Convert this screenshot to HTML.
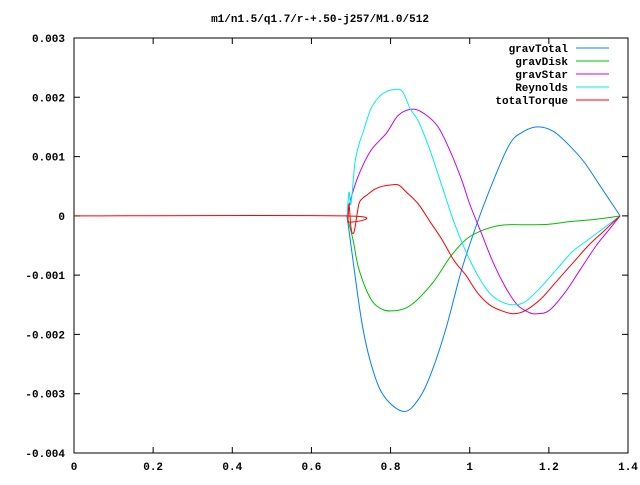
<!DOCTYPE html>
<html><head><meta charset="utf-8"><style>
body{margin:0;background:#fff}
text{font-family:"Liberation Mono",monospace;font-size:11px;font-weight:bold;fill:#000}
</style></head><body>
<svg id="c" width="640" height="480" xmlns="http://www.w3.org/2000/svg">
<rect width="640" height="480" fill="#fff"/>
<text x="320" y="22" text-anchor="middle">m1/n1.5/q1.7/r-+.50-j257/M1.0/512</text>
<g id="axes"></g><g id="series"></g><g id="legend"></g>
</svg>
<script>
const xTicks=[0,0.2,0.4,0.6,0.8,1,1.2,1.4];
const xTickLabels=["0","0.2","0.4","0.6","0.8","1","1.2","1.4"];
const yTicks=[0.003,0.002,0.001,0,-0.001,-0.002,-0.003,-0.004];
const yTickLabels=["0.003","0.002","0.001","0","-0.001","-0.002","-0.003","-0.004"];
const seriesNames=["gravTotal","gravDisk","gravStar","Reynolds","totalTorque"];
const seriesColors=["#0080ff","#00c000","#c000ff","#00eeee","#ff0000"];
const gravTotalX=[0.69,0.70,0.73,0.76,0.79,0.835,0.87,0.9,0.94,0.98,1.02,1.06,1.1,1.13,1.17,1.21,1.25,1.29,1.33,1.36,1.38];
const gravTotalY=[0,-0.0005,-0.0019,-0.0027,-0.0031,-0.0033,-0.0031,-0.0027,-0.0019,-0.0009,-0.0001,0.0006,0.0012,0.0014,0.0015,0.00143,0.0012,0.0009,0.0005,0.0002,0];
const gravDiskX=[0.69,0.705,0.72,0.75,0.78,0.81,0.84,0.87,0.91,0.95,0.99,1.03,1.07,1.1,1.15,1.2,1.25,1.3,1.34,1.38];
const gravDiskY=[0,-0.0004,-0.0009,-0.0014,-0.00158,-0.0016,-0.00155,-0.0014,-0.0011,-0.0007,-0.0004,-0.00025,-0.00017,-0.00015,-0.00015,-0.00014,-0.0001,-0.00007,-0.00004,0];
const gravStarX=[0.69,0.7,0.72,0.75,0.79,0.82,0.857,0.89,0.92,0.95,0.98,1.0,1.03,1.06,1.09,1.12,1.15,1.17,1.2,1.24,1.28,1.32,1.35,1.38];
const gravStarY=[0,0.0003,0.0007,0.0011,0.0014,0.0017,0.0018,0.0017,0.0015,0.0011,0.0006,0.0002,-0.0003,-0.0008,-0.0012,-0.0015,-0.00163,-0.00165,-0.0016,-0.0013,-0.0009,-0.0005,-0.00025,0];
const reynoldsX=[0.69,0.695,0.70,0.71,0.72,0.73,0.75,0.77,0.79,0.81,0.83,0.85,0.87,0.9,0.93,0.96,0.99,1.02,1.05,1.08,1.11,1.14,1.18,1.22,1.26,1.3,1.34,1.38];
const reynoldsY=[0,0.0004,0.0002,0.0009,0.0012,0.0014,0.0018,0.002,0.0021,0.00213,0.0021,0.0018,0.0016,0.0011,0.0005,-0.0001,-0.0006,-0.001,-0.0013,-0.00145,-0.0015,-0.00145,-0.0012,-0.0009,-0.0006,-0.0004,-0.0002,0];
const totalTorqueX=[0,0.688,0.692,0.695,0.70,0.705,0.71,0.72,0.73,0.74,0.76,0.78,0.8,0.82,0.84,0.87,0.9,0.93,0.96,0.99,1.02,1.05,1.08,1.11,1.14,1.18,1.22,1.26,1.3,1.34,1.38];
const totalTorqueY=[0,0,-0.0001,0.0002,-0.0002,-0.0003,-0.0002,0.0002,0.0003,0.00035,0.00045,0.0005,0.00052,0.00052,0.0004,0.0002,-0.0001,-0.0004,-0.00075,-0.001,-0.0013,-0.0015,-0.0016,-0.00165,-0.0016,-0.0014,-0.0011,-0.0008,-0.0005,-0.00025,0];

const L=74,R=628,T=38,B=453,XMIN=0,XMAX=1.4,YMIN=-0.004,YMAX=0.003;
const sx=v=>L+(v-XMIN)/(XMAX-XMIN)*(R-L);
const sy=v=>B-(v-YMIN)/(YMAX-YMIN)*(B-T);
const NS="http://www.w3.org/2000/svg";
function mk(tag,parent){const e=document.createElementNS(NS,tag);parent.appendChild(e);return e;}
function smoothPath(pts){
  let d='M'+pts[0][0].toFixed(1)+','+pts[0][1].toFixed(1);
  const k=0.5/3;
  for(let i=0;i<pts.length-1;i++){
    const p0=pts[i-1]||pts[i],p1=pts[i],p2=pts[i+1],p3=pts[i+2]||p2;
    const c1x=p1[0]+(p2[0]-p0[0])*k,c1y=p1[1]+(p2[1]-p0[1])*k;
    const c2x=p2[0]-(p3[0]-p1[0])*k,c2y=p2[1]-(p3[1]-p1[1])*k;
    d+=`C${c1x.toFixed(1)},${c1y.toFixed(1)} ${c2x.toFixed(1)},${c2y.toFixed(1)} ${p2[0].toFixed(1)},${p2[1].toFixed(1)}`;
  }
  return d;
}
const axes=document.getElementById('axes');
const frame=mk('rect',axes);


frame.setAttribute('x',L);frame.setAttribute('y',T);frame.setAttribute('width',R-L);frame.setAttribute('height',B-T);
frame.setAttribute('fill','none');frame.setAttribute('stroke','#000');
xTicks.forEach((v,i)=>{
  const x=sx(v);
  const t=mk('path',axes);
  
  
  t.setAttribute('d',`M${x},${B}v-6M${x},${T}v6`);t.setAttribute('stroke','#000');
  const l=mk('text',axes);
  
  
  l.setAttribute('x',x);l.setAttribute('y',B+17);l.setAttribute('text-anchor','middle');l.textContent=xTickLabels[i];
});
yTicks.forEach((v,i)=>{
  const y=sy(v);
  const t=mk('path',axes);
  
  
  t.setAttribute('d',`M${L},${y}h6M${R},${y}h-6`);t.setAttribute('stroke','#000');
  const l=mk('text',axes);
  
  
  l.setAttribute('x',L-9);l.setAttribute('y',y+4);l.setAttribute('text-anchor','end');l.textContent=yTickLabels[i];
});
const sers=document.getElementById('series');
const data=[[gravTotalX,gravTotalY],[gravDiskX,gravDiskY],[gravStarX,gravStarY],[reynoldsX,reynoldsY],[totalTorqueX,totalTorqueY]];
data.forEach((d,k)=>{
  const p=mk('path',sers);
  
  
  p.setAttribute('d',smoothPath(d[0].map((x,i)=>[sx(x),sy(d[1][i])])));
  p.setAttribute('fill','none');p.setAttribute('stroke',seriesColors[k]);p.setAttribute('stroke-width','1');
});
const leg=document.getElementById('legend');
seriesNames.forEach((n,k)=>{
  const y=48+k*13;
  const g=mk('g',leg);
  
  
  const t=mk('text',g);t.setAttribute('x',568);t.setAttribute('y',y+4);t.setAttribute('text-anchor','end');t.textContent=n;
  const l=mk('line',g);l.setAttribute('x1',576);l.setAttribute('x2',609);l.setAttribute('y1',y);l.setAttribute('y2',y);l.setAttribute('stroke',seriesColors[k]);
});
</script>
</body></html>
